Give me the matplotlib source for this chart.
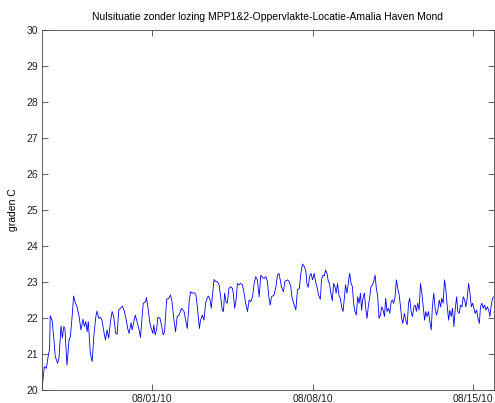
import pandas as pd
import matplotlib
matplotlib.use('Agg')
import matplotlib.pyplot as plt
import matplotlib.dates as mdates

plt.rcParams['font.family'] = ['Liberation Sans', 'DejaVu Sans']

dagen_1 = [-4.81, -4.71, -4.62, -4.52, -4.48, -4.45, -4.37, -4.30, -4.23, -4.13,
           -4.07, -3.98, -3.92, -3.86, -3.81, -3.72, -3.63, -3.57, -3.49, -3.43,
           -3.35, -3.28, -3.19, -3.11, -3.02, -2.96, -2.90, -2.84, -2.79, -2.70,
           -2.62, -2.55, -2.46, -2.41, -2.33, -2.26, -2.19, -2.11, -2.04, -1.97,
           -1.90, -1.82, -1.75, -1.68, -1.59, -1.53, -1.46, -1.39, -1.30, -1.21,
           -1.12, -1.07, -1.01, -0.92]
temp_1 = [20.0, 20.65, 20.6, 21.02, 21.11, 22.06, 21.94, 21.48, 20.93, 20.74,
          20.88, 21.78, 21.44, 21.76, 21.71, 20.69, 21.39, 21.48, 22.08, 22.61,
          22.41, 22.31, 22.04, 21.67, 21.97, 21.76, 21.90, 21.62, 21.90, 21.02,
          20.79, 21.48, 22.04, 22.19, 21.99, 22.02, 21.94, 21.62, 21.39, 21.67,
          21.44, 21.90, 22.18, 22.04, 21.57, 21.55, 22.22, 22.27, 22.33, 22.18,
          21.90, 21.71, 21.57, 21.87]

dagen_2 = [-0.875, -0.80, -0.74, -0.66, -0.57, -0.51, -0.44, -0.39, -0.29, -0.25,
           -0.19, -0.10, -0.04, 0.03, 0.07, 0.13, 0.19, 0.25, 0.34, 0.42,
           0.48, 0.54, 0.63, 0.73, 0.80, 0.86, 0.95, 1.02, 1.09, 1.17,
           1.21, 1.28, 1.39, 1.46, 1.53, 1.62, 1.68, 1.75, 1.85, 1.91,
           1.97, 2.06, 2.11, 2.19, 2.26, 2.33, 2.41, 2.46, 2.52, 2.58,
           2.64, 2.70, 2.77, 2.84, 2.92, 2.99, 3.06]
temp_2 = [21.67, 21.90, 22.08, 21.90, 21.67, 21.46, 22.04, 22.41, 22.45, 22.57,
          22.31, 21.85, 21.71, 21.57, 21.81, 21.53, 21.67, 22.02, 21.99, 21.76,
          21.53, 21.62, 22.52, 22.55, 22.64, 22.48, 21.94, 21.62, 22.04, 22.08,
          22.15, 22.27, 22.18, 21.94, 21.71, 22.50, 22.73, 22.69, 22.70, 22.64,
          22.31, 21.71, 21.94, 22.08, 21.94, 22.41, 22.57, 22.61, 22.52, 22.27,
          22.69, 23.07, 23.01, 23.01, 22.92, 22.59, 22.22]

dagen_3 = [3.11, 3.16, 3.22, 3.28, 3.35, 3.43, 3.50, 3.54, 3.60, 3.66,
           3.72, 3.79, 3.86, 3.94, 4.01, 4.08, 4.16, 4.23, 4.30, 4.38,
           4.45, 4.52, 4.59, 4.67, 4.74, 4.81, 4.89, 4.96, 5.03, 5.10,
           5.15, 5.21, 5.32, 5.40, 5.47, 5.53, 5.59, 5.64, 5.73, 5.79,
           5.85, 5.91, 5.98, 6.05, 6.11, 6.20, 6.27, 6.34, 6.42, 6.49,
           6.56, 6.64, 6.71, 6.75, 6.81, 6.87, 6.93, 7.00]
temp_3 = [22.18, 22.69, 22.45, 22.41, 22.82, 22.87, 22.82, 22.69, 22.27, 22.50,
          22.96, 22.92, 22.96, 22.92, 22.69, 22.41, 22.18, 22.50, 22.45, 22.59,
          22.96, 23.15, 23.06, 22.59, 23.19, 23.13, 23.10, 23.15, 23.01, 22.55,
          22.36, 22.59, 22.64, 22.87, 23.19, 23.24, 23.06, 22.87, 22.73, 23.01,
          23.04, 23.06, 23.01, 22.87, 22.55, 22.36, 22.22, 22.78, 22.82, 23.24,
          23.50, 23.43, 23.29, 22.96, 22.85, 23.15, 23.24, 23.06]

dagen_4 = [7.07, 7.13, 7.19, 7.26, 7.34, 7.39, 7.45, 7.51, 7.57, 7.63,
           7.69, 7.74, 7.80, 7.86, 7.92, 7.98, 8.03, 8.09, 8.15, 8.21,
           8.27, 8.33, 8.38, 8.44, 8.50, 8.56, 8.62, 8.68, 8.74, 8.79,
           8.85, 8.91, 8.97, 9.03, 9.09, 9.14, 9.20, 9.26, 9.32, 9.38,
           9.44, 9.49, 9.55, 9.61, 9.67, 9.73, 9.79, 9.84, 9.90, 9.96,
           10.02, 10.08, 10.14, 10.19, 10.25, 10.31, 10.37, 10.43, 10.48, 10.54,
           10.60, 10.66, 10.72, 10.78, 10.84, 10.89, 10.94]
temp_4 = [23.24, 23.01, 22.87, 22.64, 22.52, 23.06, 23.19, 23.17, 23.33, 23.24,
          23.01, 22.96, 22.69, 22.48, 22.96, 22.87, 22.69, 22.96, 22.64, 22.55,
          22.31, 22.18, 22.50, 22.92, 22.69, 22.96, 23.24, 22.96, 22.87, 22.41,
          22.18, 22.08, 22.59, 22.41, 22.69, 22.22, 22.55, 22.69, 22.27, 21.99,
          22.36, 22.55, 22.87, 22.92, 23.01, 23.19, 22.78, 22.64, 21.99, 22.08,
          22.31, 22.22, 22.04, 22.55, 22.18, 22.27, 22.13, 22.45, 22.50, 22.41,
          22.59, 23.06, 22.82, 22.64, 22.31, 21.99, 21.85]

dagen_5 = [11.01, 11.07, 11.13, 11.19, 11.24, 11.30, 11.36, 11.42, 11.48, 11.53,
           11.59, 11.65, 11.71, 11.77, 11.83, 11.89, 11.94, 12.00, 12.06, 12.12,
           12.18, 12.23, 12.29, 12.35, 12.41, 12.47, 12.53, 12.59, 12.64, 12.70,
           12.76, 12.82, 12.88, 12.94, 12.99, 13.05, 13.11, 13.17, 13.23, 13.29,
           13.34, 13.40, 13.46, 13.52, 13.58, 13.64, 13.69, 13.75, 13.81, 13.87,
           13.93, 13.99, 14.04, 14.10, 14.16, 14.22, 14.28, 14.33, 14.39, 14.45,
           14.51, 14.57, 14.63, 14.69, 14.74, 14.80, 14.86, 14.92]
temp_5 = [22.13, 21.94, 21.81, 22.41, 22.55, 22.18, 22.04, 22.31, 22.36, 22.18,
          22.41, 22.22, 22.96, 22.69, 22.31, 21.94, 22.18, 22.04, 22.18, 21.90,
          21.67, 22.31, 22.69, 22.27, 22.08, 22.22, 22.50, 22.31, 22.55, 22.41,
          23.06, 22.78, 22.31, 21.94, 22.22, 22.04, 22.27, 21.76, 22.27, 22.59,
          22.18, 22.13, 22.36, 22.31, 22.59, 22.50, 22.31, 22.55, 22.96, 22.69,
          22.31, 22.41, 22.27, 22.13, 22.22, 21.99, 21.85, 22.31, 22.41, 22.27,
          22.36, 22.22, 22.31, 22.22, 22.04, 22.36, 22.55, 22.59]

x_ticks = ['2010-08-01', '2010-08-08', '2010-08-15']
y_ticks = list(range(20, 31))

dagen = dagen_1 + dagen_2 + dagen_3 + dagen_4 + dagen_5
temp = temp_1 + temp_2 + temp_3 + temp_4 + temp_5
tijd = pd.Timestamp('2010-08-01') + pd.to_timedelta(dagen, unit='D')

fig = plt.figure(figsize=(4.95, 4.03), dpi=100)
ax = fig.add_axes([42 / 495, 13 / 403, 452 / 495, 360 / 403])
ax.plot(tijd, temp, color='blue', linewidth=0.6)

ax.set_xlim(tijd[0], tijd[-1])
ax.set_ylim(20, 30)
ax.set_yticks(y_ticks)
ax.set_xticks(pd.to_datetime(x_ticks))
ax.xaxis.set_major_formatter(mdates.DateFormatter('%m/%d/%y'))
ax.tick_params(direction='in', top=True, right=True, length=4, width=0.5,
               labelsize=7.5, colors='#222222', pad=3)
for s in ax.spines.values():
    s.set_linewidth(0.6)
    s.set_color('#444444')

ax.set_title('Nulsituatie zonder lozing MPP1&2-Oppervlakte-Locatie-Amalia Haven Mond',
             fontsize=7.5, pad=7)
ax.set_ylabel('graden C', fontsize=7.5, labelpad=6)

fig.savefig('out.png', dpi=100)
